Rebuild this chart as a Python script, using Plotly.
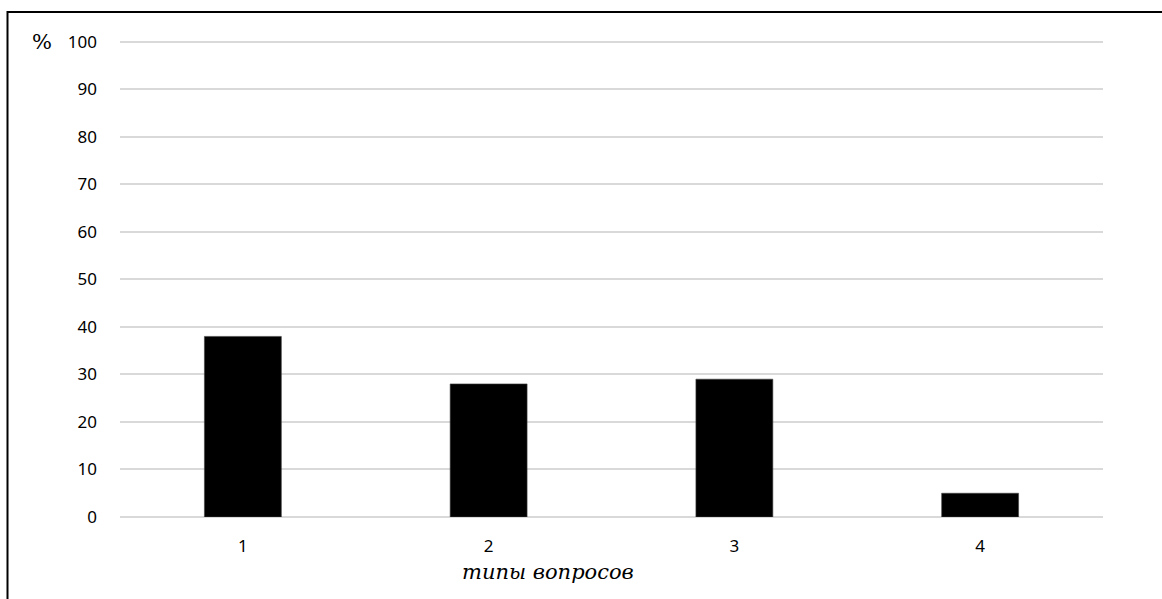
import plotly.graph_objects as go

categories = ["1", "2", "3", "4"]
values = [38, 28, 29, 5]
y_ticks = [0, 10, 20, 30, 40, 50, 60, 70, 80, 90, 100]

W, H = 1162, 599
L, R, T, B = 120, 59, 37, 82
pw, ph = W - L - R, H - T - B

fig = go.Figure(go.Bar(
    x=categories, y=values,
    marker=dict(color="black", line=dict(color="#404040", width=0.6)),
))

fig.update_layout(
    width=W, height=H,
    margin=dict(l=L, r=R, t=T, b=B, pad=0),
    plot_bgcolor="white", paper_bgcolor="white",
    bargap=0.687,
    showlegend=False,
    font=dict(family="Noto Sans, Open Sans, sans-serif", size=17, color="black"),
    xaxis=dict(type="category", showgrid=False, showline=False, zeroline=False,
               ticks="", tickfont=dict(size=17), ticklabelstandoff=17),
    yaxis=dict(range=[0, 101], tickvals=y_ticks, showgrid=True, gridcolor="#d9d9d9",
               gridwidth=1.5, zeroline=True, zerolinecolor="#d9d9d9", zerolinewidth=1.5,
               showline=False, ticks="", ticklabelstandoff=22, tickfont=dict(size=17)),
    shapes=[dict(type="rect", xref="paper", yref="paper",
                 x0=(7.5 - L) / pw, x1=(1200 - L) / pw,
                 y0=-(700 - (H - B)) / ph, y1=1 + (T - 12) / ph,
                 line=dict(color="black", width=2), fillcolor="rgba(0,0,0,0)", layer="above")],
    annotations=[
        dict(text="%", xref="paper", yref="paper", x=(42 - L) / pw, y=1 - (42 - T) / ph,
             xanchor="center", yanchor="middle", showarrow=False,
             font=dict(family="DejaVu Serif, serif", size=21)),
        dict(text="<i>типы вопросов</i>", xref="paper", yref="paper",
             x=(548 - L) / pw, y=-(572 - (H - B)) / ph,
             xanchor="center", yanchor="middle", showarrow=False,
             font=dict(family="DejaVu Serif, Liberation Serif, serif", size=21)),
    ],
)

fig.write_html("out.html", config={"displayModeBar": False},
               post_script="document.body.style.margin='0';document.body.style.overflow='hidden';")
